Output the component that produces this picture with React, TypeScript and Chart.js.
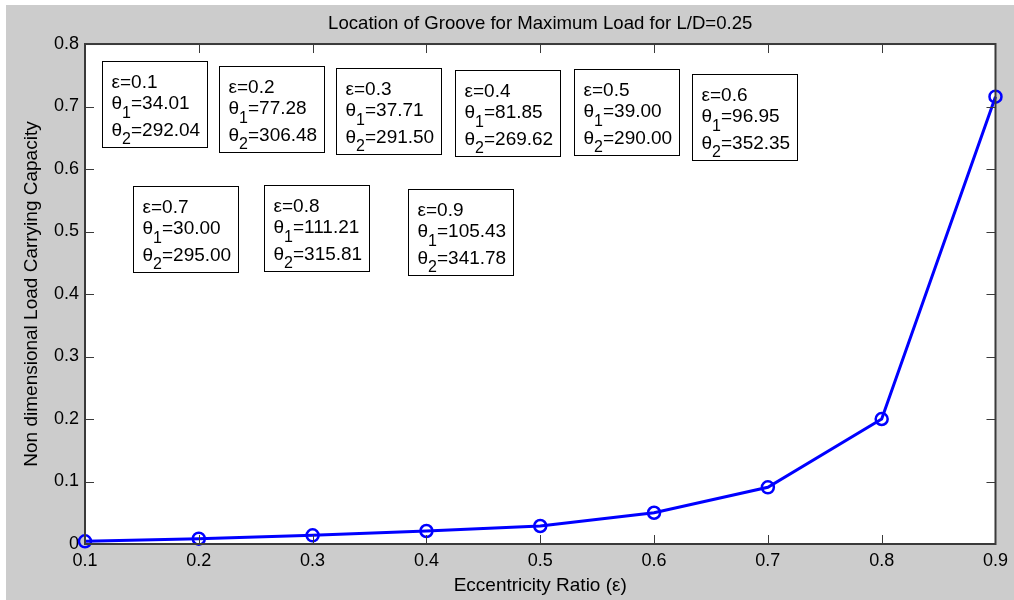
import React, { useEffect, useRef } from "react";
import { Chart, registerables } from "chart.js";

Chart.register(...registerables);

// ---- data ----
const eccentricity = [0.1, 0.2, 0.3, 0.4, 0.5, 0.6, 0.7, 0.8, 0.9];
const loadCapacity = [0.0043, 0.0085, 0.0139, 0.0208, 0.0288, 0.05, 0.0907, 0.2, 0.7157];
const theta1 = [34.01, 77.28, 37.71, 81.85, 39.0, 96.95, 30.0, 111.21, 105.43];
const theta2 = [292.04, 306.48, 291.5, 269.62, 290.0, 352.35, 295.0, 315.81, 341.78];
const xTickValues = [0.1, 0.2, 0.3, 0.4, 0.5, 0.6, 0.7, 0.8, 0.9];
const yTickValues = [0, 0.1, 0.2, 0.3, 0.4, 0.5, 0.6, 0.7, 0.8];

// text-box anchors (data units: left edge, vertical middle), like MATLAB text(x, y, ...)
const boxAnchorX = [0.115, 0.2175, 0.3202, 0.4254, 0.5298, 0.6333, 0.1421, 0.257, 0.3842];
const boxAnchorY = [0.704, 0.6968, 0.6928, 0.6904, 0.692, 0.6832, 0.5048, 0.5056, 0.5];

const FONT = "'Liberation Sans', Arial, Helvetica, sans-serif";
const TEXT_COLOR = "#000";
const AXIS_COLOR = "#3a3a3a";

function fmt(v: number) {
  return String(Math.round(v * 10) / 10);
}

const matlabFrame = {
  id: "matlabFrame",
  beforeDraw(chart: any) {
    const { ctx, chartArea: a } = chart;
    ctx.save();
    ctx.fillStyle = "#ffffff";
    ctx.fillRect(a.left, a.top, a.right - a.left, a.bottom - a.top);
    ctx.restore();
  },
  afterDatasetsDraw(chart: any) {
    const { ctx } = chart;
    const xs = chart.scales.x;
    const ys = chart.scales.y;
    const big = `19px ${FONT}`;
    const small = `16px ${FONT}`;
    ctx.save();
    for (let i = 0; i < eccentricity.length; i++) {
      const left = Math.round(xs.getPixelForValue(boxAnchorX[i])) + 0.5;
      const mid = ys.getPixelForValue(boxAnchorY[i]);
      const top = Math.round(mid - 43) + 0.5;
      const l1 = "\u03b5=" + eccentricity[i].toFixed(1);
      const r1 = "=" + theta1[i].toFixed(2);
      const r2 = "=" + theta2[i].toFixed(2);
      ctx.font = big;
      const wTheta = ctx.measureText("\u03b8").width;
      const w1 = ctx.measureText(l1).width;
      const wr1 = ctx.measureText(r1).width;
      const wr2 = ctx.measureText(r2).width;
      ctx.font = small;
      const ws1 = ctx.measureText("1").width;
      const ws2 = ctx.measureText("2").width;
      const textW = Math.max(w1, wTheta + ws1 + wr1, wTheta + ws2 + wr2);
      const boxW = Math.round(9 + textW + 7);
      const boxH = 86;
      ctx.fillStyle = "#fff";
      ctx.fillRect(left, top, boxW, boxH);
      ctx.strokeStyle = "#000";
      ctx.lineWidth = 1;
      ctx.strokeRect(left, top, boxW, boxH);

      const tx = left + 9;
      ctx.fillStyle = TEXT_COLOR;
      ctx.textAlign = "left";
      ctx.textBaseline = "alphabetic";
      ctx.font = big;
      ctx.fillText(l1, tx, top + 26.5);
      // theta 1 line
      const y1 = top + 47.5;
      ctx.fillText("\u03b8", tx, y1);
      ctx.font = small;
      ctx.fillText("1", tx + wTheta, y1 + 8.5);
      ctx.font = big;
      ctx.fillText(r1, tx + wTheta + ws1, y1);
      // theta 2 line
      const y2 = top + 74;
      ctx.fillText("\u03b8", tx, y2);
      ctx.font = small;
      ctx.fillText("2", tx + wTheta, y2 + 8.5);
      ctx.font = big;
      ctx.fillText(r2, tx + wTheta + ws2, y2);
    }
    ctx.restore();
  },
  afterDraw(chart: any) {
    const { ctx, chartArea: a } = chart;
    const xs = chart.scales.x;
    const ys = chart.scales.y;
    const tl = 9;
    ctx.save();
    ctx.strokeStyle = AXIS_COLOR;
    ctx.lineWidth = 1;
    ctx.beginPath();
    for (const v of xTickValues) {
      const px = Math.round(xs.getPixelForValue(v)) + 0.5;
      ctx.moveTo(px, a.bottom);
      ctx.lineTo(px, a.bottom - tl);
      ctx.moveTo(px, a.top);
      ctx.lineTo(px, a.top + tl);
    }
    for (const v of yTickValues) {
      const py = Math.round(ys.getPixelForValue(v)) + 0.5;
      ctx.moveTo(a.left, py);
      ctx.lineTo(a.left + tl, py);
      ctx.moveTo(a.right, py);
      ctx.lineTo(a.right - tl, py);
    }
    ctx.stroke();
    ctx.lineWidth = 2;
    ctx.strokeRect(a.left, a.top, a.right - a.left, a.bottom - a.top);
    ctx.restore();
  },
};

export default function App() {
  const canvasRef = useRef<HTMLCanvasElement | null>(null);

  useEffect(() => {
    const canvas = canvasRef.current;
    if (!canvas) return;
    const chart = new Chart(canvas, {
      type: "line",
      data: {
        datasets: [
          {
            data: eccentricity.map((x, i) => ({ x, y: loadCapacity[i] })),
            borderColor: "#0000ff",
            backgroundColor: "rgba(0,0,0,0)",
            borderWidth: 3,
            pointStyle: "circle",
            pointRadius: 6,
            pointBorderWidth: 2.5,
            pointBorderColor: "#0000ff",
            pointBackgroundColor: "rgba(0,0,0,0)",
            tension: 0,
            clip: false as any,
          },
        ],
      },
      options: {
        responsive: false,
        maintainAspectRatio: false,
        devicePixelRatio: 1,
        animation: false,
        layout: { padding: { top: 0, left: 0, right: 17, bottom: 0 } },
        plugins: {
          legend: { display: false },
          tooltip: { enabled: false },
          title: {
            display: true,
            text: "Location of Groove for Maximum Load for L/D=0.25",
            fullSize: false,
            color: TEXT_COLOR,
            font: { family: FONT, size: 18.6, weight: "normal" as any, lineHeight: 1.2 },
            padding: { top: 8, bottom: 8.7 },
          },
        },
        scales: {
          x: {
            type: "linear",
            min: 0.1,
            max: 0.9,
            grid: { display: false, drawTicks: false },
            border: { display: false },
            afterBuildTicks: (s: any) => {
              s.ticks = xTickValues.map((value) => ({ value }));
            },
            afterFit: (s: any) => {
              s.height = 56;
            },
            ticks: {
              padding: 6,
              autoSkip: false,
              maxRotation: 0,
              color: TEXT_COLOR,
              font: { family: FONT, size: 18 },
              callback: (v: any) => fmt(Number(v)),
            },
            title: {
              display: true,
              text: "Eccentricity Ratio (\u03b5)",
              color: TEXT_COLOR,
              font: { family: FONT, size: 19, lineHeight: 1.2 },
              padding: { top: 0, bottom: 3 },
            },
          },
          y: {
            type: "linear",
            min: 0,
            max: 0.8,
            grid: { display: false, drawTicks: false },
            border: { display: false },
            afterBuildTicks: (s: any) => {
              s.ticks = yTickValues.map((value) => ({ value }));
            },
            afterFit: (s: any) => {
              s.width = 79;
            },
            ticks: {
              padding: 6,
              autoSkip: false,
              color: TEXT_COLOR,
              font: { family: FONT, size: 18 },
              callback: (v: any) => fmt(Number(v)),
            },
            title: {
              display: true,
              text: "Non dimensional Load Carrying Capacity",
              color: TEXT_COLOR,
              font: { family: FONT, size: 19, lineHeight: 1.2 },
              padding: { top: 14, bottom: 0 },
            },
          },
        },
      },
      plugins: [matlabFrame],
    });
    return () => chart.destroy();
  }, []);

  return (
    <div
      style={{
        position: "absolute",
        left: 0,
        top: 0,
        width: 1014,
        height: 600,
        background: "#ffffff",
        overflow: "hidden",
      }}
    >
      <div
        style={{
          position: "absolute",
          left: 6,
          top: 5,
          width: 1008,
          height: 595,
          background: "#cccccc",
        }}
      >
        <canvas ref={canvasRef} width={1008} height={595} style={{ display: "block" }} />
      </div>
    </div>
  );
}
